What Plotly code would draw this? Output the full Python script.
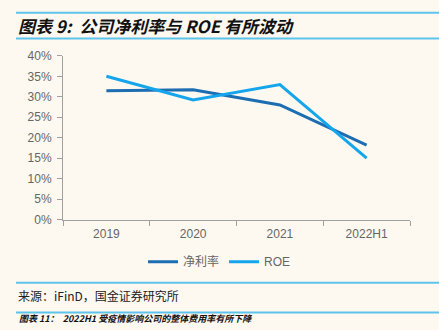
import plotly.graph_objects as go

categories = ["2019", "2020", "2021", "2022H1"]
net_margin = [31.5, 31.7, 28.0, 18.2]
roe = [35.0, 29.2, 33.0, 15.0]
y_ticks = [0, 5, 10, 15, 20, 25, 30, 35, 40]
y_tick_labels = [f"{v}%" for v in y_ticks]

W, H = 439, 330
BG = "#FDF9F0"
DARK = "#1D6DB3"
LIGHT = "#14A5EC"
RULE = "#5EC3EA"

fig = go.Figure()
fig.add_trace(go.Scatter(x=categories, y=net_margin, mode="lines", name="净利率",
                         line=dict(color=DARK, width=3)))
fig.add_trace(go.Scatter(x=categories, y=roe, mode="lines", name="ROE",
                         line=dict(color=LIGHT, width=3)))

def px_x(x):
    return x / W

def px_y(y):
    return 1 - y / H

fig.update_layout(
    width=W, height=H,
    margin=dict(l=0, r=0, t=0, b=0),
    paper_bgcolor=BG, plot_bgcolor=BG,
    font=dict(family="Liberation Sans, Arial, Noto Sans CJK SC", color="#666666", size=12),
    xaxis=dict(domain=[px_x(63), px_x(410)], range=[-0.5, 3.5], type="category",
               showgrid=False, showline=True, linecolor="#A0A0A0", linewidth=1,
               ticks="outside", tickson="boundaries", ticklen=5, tickcolor="#A0A0A0",
               tickfont=dict(size=12, color="#666666"), zeroline=False, fixedrange=True,
               ticklabelstandoff=3),
    yaxis=dict(domain=[px_y(222), px_y(51)], range=[0, 40],
               tickvals=y_ticks, ticktext=y_tick_labels,
               showgrid=False, showline=True, linecolor="#A0A0A0", linewidth=1,
               ticks="outside", ticklen=5, tickcolor="#A0A0A0",
               tickfont=dict(size=12, color="#666666"), zeroline=False,
               ticklabelstandoff=3),
    legend=dict(orientation="h", x=0.5, xanchor="center", y=px_y(266), yanchor="middle",
                bgcolor="rgba(0,0,0,0)", font=dict(size=12, color="#666666"),
                itemwidth=30, tracegroupgap=0),
    showlegend=True,
)

shapes = []
for yy, col in [(6, RULE), (33, RULE), (288, RULE), (319, RULE)]:
    shapes.append(dict(type="line", xref="paper", yref="paper",
                       x0=px_x(16), x1=1, y0=px_y(yy), y1=px_y(yy),
                       line=dict(color=col, width=2)))
fig.update_layout(shapes=shapes)

fig.add_annotation(text="<b><i>图表 9:  公司净利率与 ROE 有所波动</i></b>", xref="paper", yref="paper",
                   x=px_x(16), y=px_y(19), xanchor="left", yanchor="middle", showarrow=False,
                   font=dict(size=17, color="#111111", family="Noto Sans CJK SC"))
fig.add_annotation(text="来源：iFinD，国金证券研究所", xref="paper", yref="paper",
                   x=px_x(16), y=px_y(301), xanchor="left", yanchor="middle", showarrow=False,
                   font=dict(size=12, color="#222222", family="Noto Sans CJK SC"))
fig.add_annotation(text="<b><i>图表 11：  2022H1 受疫情影响公司的整体费用率有所下降</i></b>", xref="paper", yref="paper",
                   x=px_x(17), y=px_y(325), xanchor="left", yanchor="middle", showarrow=False,
                   font=dict(size=9, color="#111111", family="Noto Sans CJK SC"))

fig.write_html("out.html")
